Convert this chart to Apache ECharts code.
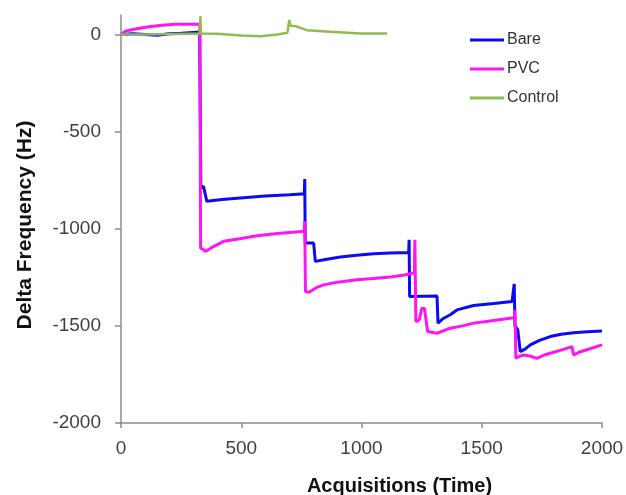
<!DOCTYPE html>
<html>
<head>
<meta charset="utf-8">
<script src="https://cdn.jsdelivr.net/npm/echarts@6/dist/echarts.min.js"></script>
<style>html,body{margin:0;padding:0;background:#fff;}#c{width:626px;height:495px;}</style>
</head>
<body>
<div id="c"></div>
<script>
var seriesNames = ['Bare', 'PVC', 'Control'];
var yTicks = [-2000, -1500, -1000, -500, 0];
var xTicks = [0, 500, 1000, 1500, 2000];

var bareData = [
  [0,0],[50,4],[100,0],[150,-4],[200,3],[250,6],[300,10],[327,12],[332,-790],[343,-782],[357,-859],
  [420,-850],[496,-842],[600,-832],[700,-825],[752,-821],[762,-821],[764,-744],[766,-1074],[801,-1074],
  [808,-1168],[850,-1158],[912,-1146],[980,-1137],[1050,-1129],[1120,-1125],[1196,-1122],[1198,-1057],
  [1200,-1349],[1314,-1346],[1318,-1486],[1340,-1462],[1369,-1443],[1397,-1418],[1466,-1395],[1550,-1385],
  [1626,-1375],[1632,-1375],[1635,-1284],[1638,-1500],[1650,-1521],[1660,-1633],[1680,-1620],[1702,-1598],
  [1740,-1575],[1785,-1555],[1830,-1543],[1882,-1535],[1940,-1530],[2000,-1526]
];
var pvcData = [
  [0,0],[18,17],[60,28],[115,40],[170,47],[226,52],[280,52],[328,52],[331,-1100],[340,-1105],[350,-1117],
  [380,-1095],[427,-1065],[500,-1050],[565,-1036],[650,-1025],[752,-1014],[762,-1014],[764,-962],[767,-1323],
  [780,-1328],[810,-1305],[842,-1289],[900,-1275],[981,-1263],[1050,-1256],[1120,-1249],[1180,-1238],
  [1210,-1229],[1220,-1229],[1222,-1057],[1226,-1478],[1240,-1470],[1251,-1409],[1262,-1412],[1275,-1529],
  [1314,-1538],[1369,-1512],[1420,-1500],[1466,-1486],[1550,-1472],[1626,-1460],[1636,-1460],[1638,-1418],
  [1642,-1667],[1660,-1655],[1674,-1650],[1700,-1655],[1730,-1667],[1760,-1650],[1785,-1641],[1830,-1625],
  [1875,-1607],[1880,-1607],[1882,-1650],[1910,-1633],[1950,-1618],[2000,-1598]
];
var controlData = [
  [0,0],[100,0],[200,2],[300,3],[328,3],[330,94],[333,5],[400,3],[500,-5],[580,-9],[650,0],[692,9],
  [700,74],[704,45],[725,43],[773,22],[870,14],[995,5],[1106,5]
];

var font = 'Liberation Sans, Arial, sans-serif';
var plain = function (v) { return String(v); };
var chart = echarts.init(document.getElementById('c'), null, {renderer: 'canvas'});
chart.setOption({
  animation: false,
  backgroundColor: '#fff',
  grid: {left: 121, right: 24, top: 15, bottom: 72, containLabel: false, outerBoundsMode: 'none'},
  legend: {
    orient: 'vertical', left: 470, top: 32, padding: 0, itemWidth: 34, itemHeight: 3, itemGap: 13,
    icon: 'rect',
    data: seriesNames,
    textStyle: {fontFamily: font, fontSize: 16, color: '#333', padding: [0,0,0,-2]}
  },
  xAxis: {
    type: 'value', min: 0, max: 2000, interval: 500,
    name: 'Acquisitions (Time)', nameLocation: 'middle', nameGap: 53,
    nameTextStyle: {fontFamily: font, fontSize: 20, fontWeight: 'bold', color: '#111', padding: [0,0,0,76]},
    axisLine: {show: true, onZero: false, lineStyle: {color: '#8c8c8c', width: 1.5}},
    axisTick: {show: true, length: 5, lineStyle: {color: '#8c8c8c', width: 1.5}, customValues: xTicks},
    axisLabel: {fontFamily: font, fontSize: 19, color: '#404040', margin: 16, customValues: xTicks, formatter: plain},
    splitLine: {show: false}
  },
  yAxis: {
    type: 'value', min: -2000, max: 100, interval: 500,
    name: 'Delta Frequency (Hz)', nameLocation: 'middle', nameGap: 85,
    nameTextStyle: {fontFamily: font, fontSize: 21, fontWeight: 'bold', color: '#111', padding: [0,12,0,0]},
    axisLine: {show: true, onZero: false, lineStyle: {color: '#8c8c8c', width: 1.5}},
    axisTick: {show: true, length: 6, lineStyle: {color: '#8c8c8c', width: 1.5}, customValues: yTicks},
    axisLabel: {fontFamily: font, fontSize: 19, color: '#404040', margin: 20, customValues: yTicks, formatter: plain},
    splitLine: {show: false}
  },
  series: [
    {name: 'Bare', type: 'line', data: bareData, symbol: 'none', showSymbol: false,
     lineStyle: {color: '#0a0af5', width: 3}, itemStyle: {color: '#0a0af5'}},
    {name: 'PVC', type: 'line', data: pvcData, symbol: 'none', showSymbol: false,
     lineStyle: {color: '#ff14f5', width: 3}, itemStyle: {color: '#ff14f5'}},
    {name: 'Control', type: 'line', data: controlData, symbol: 'none', showSymbol: false,
     lineStyle: {color: '#92b954', width: 2.5}, itemStyle: {color: '#92b954'}}
  ]
});
</script>
</body>
</html>
